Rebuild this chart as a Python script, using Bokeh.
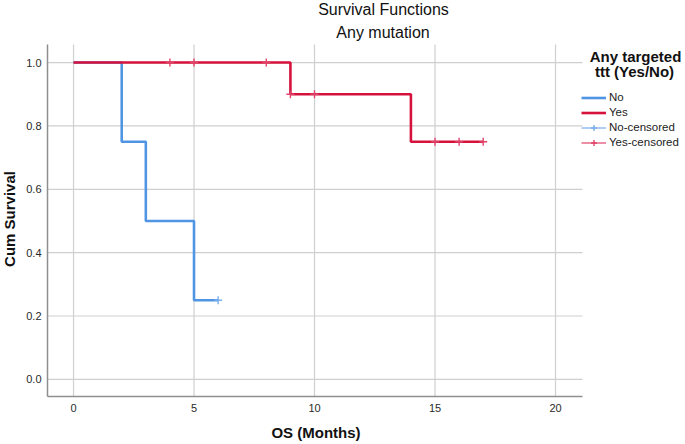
from math import pi
from bokeh.plotting import figure
from bokeh.models import Range1d, Legend, LegendItem, PrintfTickFormatter, Label
from bokeh.embed import file_html
from bokeh.resources import INLINE

# ---- data ----
no_time = [0, 2, 3, 5, 6]
no_surv = [1.0, 0.75, 0.50, 0.25, 0.25]
no_cens_time = [6]
no_cens_surv = [0.25]

yes_time = [0, 9, 14, 17]
yes_surv = [1.0, 0.90, 0.75, 0.75]
yes_cens_time = [4, 5, 8, 9, 10, 15, 16, 17]
yes_cens_surv = [1.0, 1.0, 1.0, 0.90, 0.90, 0.75, 0.75, 0.75]

x_ticks = [0, 5, 10, 15, 20]
y_ticks = [0.0, 0.2, 0.4, 0.6, 0.8, 1.0]

legend_labels = ["No", "Yes", "No-censored", "Yes-censored"]
legend_title = ["Any targeted", "ttt (Yes/No)"]
titles = ["Survival Functions", "Any mutation"]
x_label = "OS (Months)"
y_label = "Cum Survival"

# ---- styling / layout ----
FONT = "Liberation Sans"
BLUE = "#4f95e4"
RED = "#d6123c"
BLUE_L = "#78aeec"
RED_L = "#e0436a"
GRID = "#cfcfcf"
AXIS = "#8f8f8f"
NAN = float("nan")

W, H = 685, 444
# data bounds of the plotting area and where that area sits on the canvas
X0, X1 = -1.08, 21.12
Y0, Y1 = -0.054, 1.057
PX0, PX1, PY_TOP, PY_BOT = 47, 582, 44, 396
kx = (PX1 - PX0) / (X1 - X0)
ky = (PY_BOT - PY_TOP) / (Y1 - Y0)

p = figure(width=W, height=H, output_backend="svg", toolbar_location=None,
           x_range=Range1d(X0 - PX0 / kx, X1 + (W - PX1) / kx),
           y_range=Range1d(Y0 - (H - PY_BOT) / ky, Y1 + PY_TOP / ky),
           min_border=0)
p.title.text = ""
p.title.standoff = 0
p.outline_line_color = None
p.xgrid.visible = False
p.ygrid.visible = False

for ax in (p.xaxis[0], p.yaxis[0]):
    ax.major_tick_line_color = None
    ax.minor_tick_line_color = None
    ax.axis_line_color = AXIS
    ax.axis_line_width = 1.5
    ax.major_label_text_font = FONT
    ax.major_label_text_font_size = "11px"
    ax.major_label_text_color = "#2a2a2a"

p.xaxis.ticker = x_ticks
p.yaxis.ticker = y_ticks
p.yaxis.formatter = PrintfTickFormatter(format="%.1f")
p.xaxis.major_label_standoff = 1
p.yaxis.major_label_standoff = 0
p.xaxis.fixed_location = Y0
p.yaxis.fixed_location = X0
p.xaxis.bounds = (X0, X1)
p.yaxis.bounds = (Y0, Y1)

# grid lines limited to the plotting area
p.segment(x0=x_ticks, y0=[Y0] * len(x_ticks), x1=x_ticks, y1=[Y1] * len(x_ticks),
          line_color=GRID, line_width=1.2)
p.segment(x0=[X0] * len(y_ticks), y0=y_ticks, x1=[X1] * len(y_ticks), y1=y_ticks,
          line_color=GRID, line_width=1.2)

r_no = p.step(no_time, no_surv, mode="after", line_color=BLUE, line_width=2.6)
r_yes = p.step(yes_time, yes_surv, mode="after", line_color=RED, line_width=2.6)
c_no = p.scatter(no_cens_time, no_cens_surv, marker="cross", size=8,
                 line_color=BLUE_L, line_width=1.4)
c_yes = p.scatter(yes_cens_time, yes_cens_surv, marker="cross", size=8,
                  line_color=RED_L, line_width=1.4)
# legend-only line swatches for the censored entries (nothing drawn in the plot)
d_no = p.line(x=[NAN], y=[NAN], line_color=BLUE_L, line_width=1.2)
d_yes = p.line(x=[NAN], y=[NAN], line_color=RED_L, line_width=1.2)

legend = Legend(items=[
    LegendItem(label=legend_labels[0], renderers=[r_no]),
    LegendItem(label=legend_labels[1], renderers=[r_yes]),
    LegendItem(label=legend_labels[2], renderers=[d_no, c_no]),
    LegendItem(label=legend_labels[3], renderers=[d_yes, c_yes]),
], location=(PX1 - 1, H - 149.5), padding=1, margin=0, spacing=0,
    label_height=15, glyph_height=15, glyph_width=25, label_standoff=3,
    border_line_color=None, background_fill_alpha=0,
    label_text_font=FONT, label_text_font_size="11.5px", label_text_color="#222222")
p.add_layout(legend)

SHIFT = 7  # rendered text sits this many px below its anchor

def lab(text, cx, cy, size, bold=False, angle=0.0):
    """Text placed in canvas pixels (cy = wanted baseline, measured from the top)."""
    if angle:
        cx -= SHIFT
    else:
        cy -= SHIFT
    p.add_layout(Label(x=cx, y=H - cy, x_units="screen", y_units="screen",
                       text=text, text_align="center", text_baseline="alphabetic",
                       angle=angle, text_font=FONT, text_font_size=size,
                       text_font_style="bold" if bold else "normal",
                       text_color="#111111"))

lab(titles[0], 383, 15.5, "16px")
lab(titles[1], 382.5, 39, "16px")
lab(legend_title[0], 635, 63, "15px", bold=True)
lab(legend_title[1], 634, 78, "15px", bold=True)
lab(x_label, (PX0 + PX1) / 2 + 1, 439, "15px", bold=True)
lab(y_label, 16, (PY_TOP + PY_BOT) / 2 - 1.5, "15px", bold=True, angle=pi / 2)

open("out.html", "w").write(file_html(p, INLINE))
